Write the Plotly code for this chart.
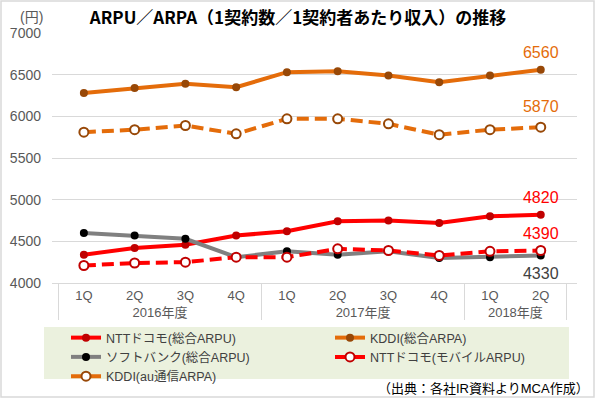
import plotly.graph_objects as go

years = ["2016年度"] * 4 + ["2017年度"] * 4 + ["2018年度"] * 2
quarters = ["1Q", "2Q", "3Q", "4Q", "1Q", "2Q", "3Q", "4Q", "1Q", "2Q"]

ntt_total = [4340, 4420, 4460, 4570, 4620, 4740, 4750, 4720, 4800, 4820]
kddi_total = [6280, 6340, 6390, 6350, 6530, 6540, 6490, 6410, 6490, 6560]
softbank_total = [4600, 4570, 4530, 4310, 4380, 4340, 4380, 4300, 4310, 4330]
ntt_mobile = [4210, 4240, 4250, 4310, 4310, 4410, 4390, 4330, 4380, 4390]
kddi_au = [5810, 5840, 5890, 5790, 5970, 5970, 5910, 5780, 5840, 5870]

names = ["NTTドコモ(総合ARPU)", "KDDI(総合ARPA)", "ソフトバンク(総合ARPU)",
         "NTTドコモ(モバイルARPU)", "KDDI(au通信ARPA)"]

FONT = "Liberation Sans, Arial, Noto Sans CJK JP, sans-serif"
x = [years, quarters]

# plot area geometry (pixels) used only for placing layout elements
L, R, T, B = 52, 19, 33, 116
W, H = 596, 399
PW, PH = W - L - R, H - T - B


def px(xp):
    return (xp - L) / PW


def py(yp):
    return (H - B - yp) / PH


fig = go.Figure()

series = [
    dict(y=ntt_total, name=names[0], line=dict(color="#FF0000", width=4),
         marker=dict(color="#C00000", size=8), legend="legend"),
    dict(y=kddi_total, name=names[1], line=dict(color="#E46C0A", width=4),
         marker=dict(color="#984807", size=8), legend="legend2"),
    dict(y=softbank_total, name=names[2], line=dict(color="#808080", width=4),
         marker=dict(color="#000000", size=8), legend="legend"),
    dict(y=ntt_mobile, name=names[3], line=dict(color="#FF0000", width=4, dash="12px,6px"),
         marker=dict(color="#FFFFFF", size=9, line=dict(color="#C00000", width=2)), legend="legend2"),
    dict(y=kddi_au, name=names[4], line=dict(color="#E46C0A", width=4, dash="12px,6px"),
         marker=dict(color="#FFFFFF", size=9, line=dict(color="#984807", width=2)), legend="legend"),
]
for s in series:
    fig.add_trace(go.Scatter(x=x, mode="lines+markers", **s))

# end-value labels (invisible marker sets the gap between point and label)
labels = [
    (ntt_total, "#FF0000", "top center", 10),
    (kddi_total, "#E46C0A", "top center", 10),
    (softbank_total, "#404040", "bottom center", 16),
    (ntt_mobile, "#FF0000", "top center", 10),
    (kddi_au, "#E46C0A", "top center", 16),
]
for vals, col, pos, gap in labels:
    fig.add_trace(go.Scatter(
        x=[[years[-1]], [quarters[-1]]], y=[vals[-1]], mode="markers+text",
        marker=dict(size=gap, opacity=0),
        text=[str(vals[-1])], textposition=pos,
        textfont=dict(color=col, size=16, family=FONT),
        showlegend=False, hoverinfo="skip"))

shapes = [
    # outer border
    dict(type="rect", xref="paper", yref="paper", x0=px(1), x1=px(594), y0=py(397), y1=py(1),
         line=dict(color="#D9D9D9", width=1.5), layer="below"),
    # legend background
    dict(type="rect", xref="paper", yref="paper", x0=px(44), x1=px(569), y0=py(379), y1=py(327),
         line=dict(width=0), fillcolor="#EBF1DE", layer="below"),
]

annotations = [
    dict(text="(円)", xref="paper", yref="paper", x=px(31), y=py(17), xanchor="center",
         yanchor="middle", showarrow=False, font=dict(size=14, color="#595959", family=FONT)),
    dict(text="（出典：各社IR資料よりMCA作成）", xref="paper", yref="paper", x=px(591), y=py(388),
         xanchor="right", yanchor="middle", showarrow=False,
         font=dict(size=13, color="#000000", family=FONT)),
]

fig.update_layout(
    width=W, height=H,
    margin=dict(l=L, r=R, t=T, b=B, autoexpand=False),
    paper_bgcolor="white", plot_bgcolor="white",
    font=dict(family=FONT, color="#404040"),
    title=dict(text="ARPU／ARPA（1契約数／1契約者あたり収入）の推移", x=0.5, xanchor="center",
               y=1 - 18 / H, yanchor="middle", automargin=False,
               font=dict(size=17, color="#000000", family="Noto Sans CJK JP", weight="bold")),
    xaxis=dict(type="multicategory", showdividers=True, dividercolor="#D9D9D9", dividerwidth=1,
               tickfont=dict(size=13, color="#595959"), showline=True, linecolor="#D9D9D9",
               linewidth=1, showgrid=False, ticks="", automargin=False),
    yaxis=dict(range=[4000, 7000], dtick=500, gridcolor="#D9D9D9", showline=False, zeroline=False,
               tickfont=dict(size=14, color="#595959"), ticks="", ticklabelstandoff=10,
               automargin=False),
    legend=dict(x=px(66), y=py(323), xanchor="left", yanchor="top", bgcolor="rgba(0,0,0,0)",
                font=dict(size=12.5, color="#404040"), tracegroupgap=0),
    legend2=dict(x=px(330), y=py(323), xanchor="left", yanchor="top", bgcolor="rgba(0,0,0,0)",
                 font=dict(size=12.5, color="#404040"), tracegroupgap=0),
    shapes=shapes, annotations=annotations,
    hovermode=False,
)

fig.write_html("out.html", config={"displayModeBar": False},
               post_script="document.body.style.margin='0';")
